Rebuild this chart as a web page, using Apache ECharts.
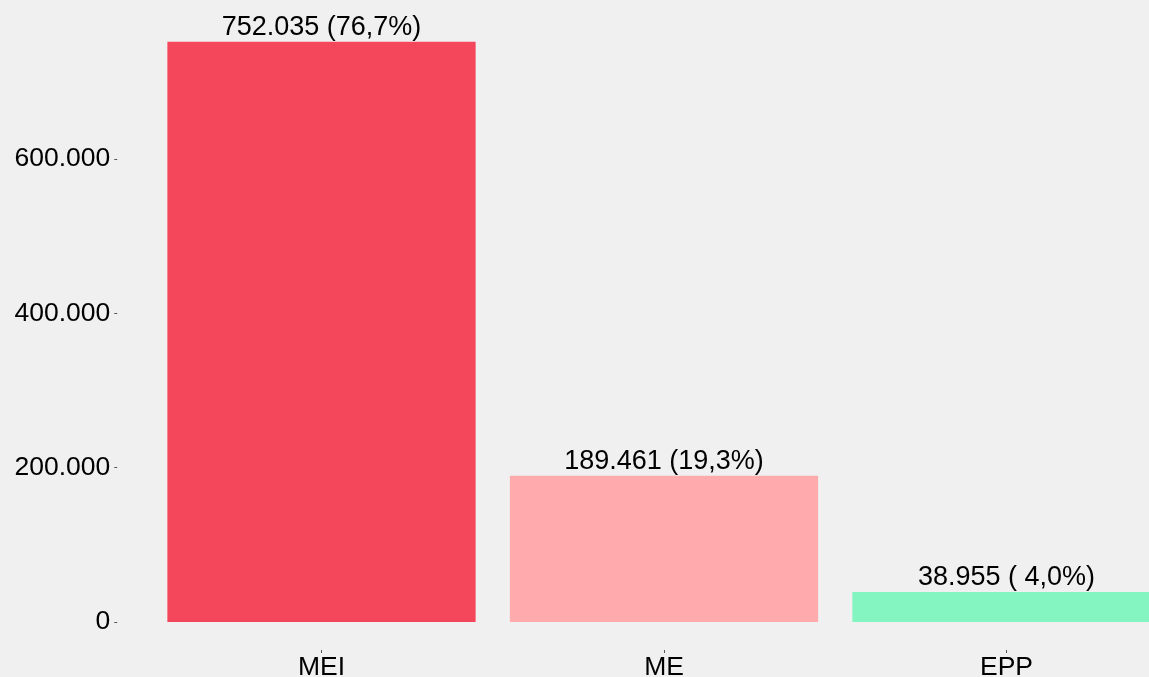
<!DOCTYPE html>
<html>
<head>
<meta charset="utf-8">
<script src="https://cdn.jsdelivr.net/npm/echarts@6/dist/echarts.min.js"></script>
<style>
html,body{margin:0;padding:0;background:#f0f0f0;}
#c{width:1149px;height:677px;}
</style>
</head>
<body>
<div id="c"></div>
<script>
const categories = ['MEI', 'ME', 'EPP'];
const values = [752035, 189461, 38955];
const percentLabels = ['76,7', '19,3', ' 4,0'];
const barColors = ['#F5475C', '#FFAAAD', '#84F5C0'];
const yTicks = [0, 200000, 400000, 600000];

function fmt(v) {
  return String(v).replace(/\B(?=(\d{3})+(?!\d))/g, '.');
}

const chart = echarts.init(document.getElementById('c'));
chart.setOption({
  backgroundColor: '#f0f0f0',
  animation: false,
  grid: { left: 150.25, width: 1027.5, top: 4.7, height: 617.3, containLabel: false, outerBoundsMode: 'none' },
  xAxis: {
    type: 'category',
    data: categories,
    offset: 28,
    axisLine: { show: false, onZero: false },
    axisTick: { show: true, alignWithLabel: true, length: 3, lineStyle: { color: '#555' } },
    axisLabel: { color: '#000', fontSize: 26.5, fontFamily: 'Liberation Sans', margin: 4 }
  },
  yAxis: {
    type: 'value',
    min: 0, max: 800000, interval: 200000,
    offset: 33,
    splitLine: { show: false },
    axisLine: { show: false, onZero: false },
    axisTick: { show: true, length: 3, customValues: yTicks, lineStyle: { color: '#555' } },
    axisLabel: {
      color: '#000', fontSize: 26.5, fontFamily: 'Liberation Sans', margin: 7,
      customValues: yTicks,
      formatter: v => yTicks.indexOf(v) >= 0 ? fmt(v) : ''
    }
  },
  series: [{
    type: 'bar',
    barCategoryGap: '10%',
    data: values.map((v, i) => ({ value: v, itemStyle: { color: barColors[i] } })),
    label: {
      show: true, position: 'top', distance: 1,
      color: '#000', fontSize: 27, fontFamily: 'Liberation Sans',
      formatter: p => fmt(p.value) + ' (' + percentLabels[p.dataIndex] + '%)'
    }
  }]
});
</script>
</body>
</html>
